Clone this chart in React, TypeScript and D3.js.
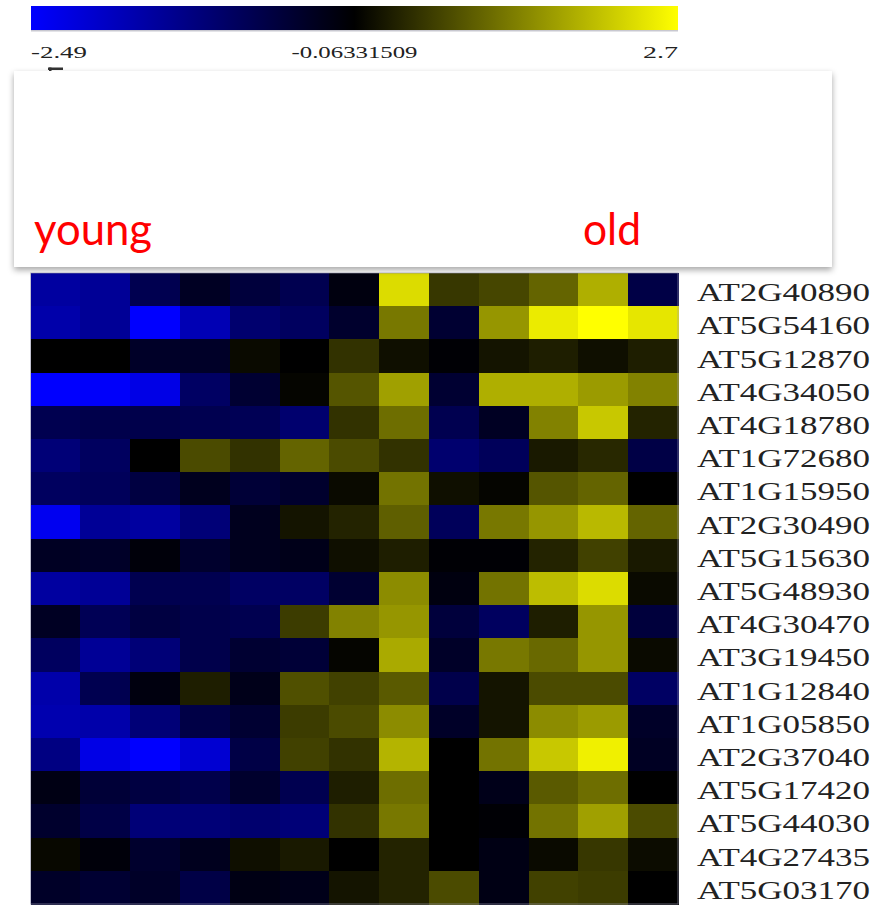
import React from "react";
import * as d3 from "d3";

const genes = [
  "AT2G40890", "AT5G54160", "AT5G12870", "AT4G34050", "AT4G18780",
  "AT1G72680", "AT1G15950", "AT2G30490", "AT5G15630", "AT5G48930",
  "AT4G30470", "AT3G19450", "AT1G12840", "AT1G05850", "AT2G37040",
  "AT5G17420", "AT5G44030", "AT4G27435", "AT5G03170",
];

const samples = ["s1", "s2", "s3", "s4", "s5", "s6", "s7", "s8", "s9", "s10", "s11", "s12", "s13"];

const values: number[][] = [
  [-1.59, -1.49, -0.82, -0.40, -0.63, -0.82, -0.21, 2.32, 0.53, 0.70, 1.02, 1.83, -0.73],
  [-1.68, -1.49, -2.49, -1.78, -1.11, -0.97, -0.49, 1.24, -0.54, 1.56, 2.48, 2.70, 2.43],
  [-0.06, -0.06, -0.44, -0.44, 0.05, -0.06, 0.48, 0.10, -0.11, 0.15, 0.26, 0.10, 0.26],
  [-2.49, -2.44, -2.25, -1.01, -0.54, -0.01, 0.86, 1.67, -0.54, 1.83, 1.83, 1.62, 1.35],
  [-0.82, -0.78, -0.78, -0.82, -0.87, -1.11, 0.48, 1.13, -0.82, -0.40, 1.35, 2.10, 0.32],
  [-1.20, -0.97, -0.06, 0.75, 0.48, 1.02, 0.75, 0.48, -1.11, -0.92, 0.21, 0.37, -0.73],
  [-0.97, -0.92, -0.68, -0.35, -0.59, -0.49, 0.05, 1.18, 0.10, -0.01, 0.86, 1.02, -0.06],
  [-2.35, -1.49, -1.59, -1.20, -0.35, 0.15, 0.32, 0.97, -0.92, 1.24, 1.56, 1.94, 1.02],
  [-0.40, -0.44, -0.16, -0.49, -0.35, -0.30, 0.10, 0.26, -0.11, -0.11, 0.32, 0.64, 0.21],
  [-1.59, -1.49, -0.82, -0.82, -1.01, -1.01, -0.54, 1.45, -0.21, 1.18, 1.99, 2.32, 0.05],
  [-0.40, -0.87, -0.68, -0.78, -0.82, 0.59, 1.35, 1.56, -0.63, -0.97, 0.26, 1.56, -0.63],
  [-0.97, -1.49, -1.20, -0.78, -0.54, -0.59, -0.01, 1.78, -0.44, 1.24, 1.07, 1.56, 0.05],
  [-1.68, -0.82, -0.21, 0.26, -0.30, 0.80, 0.64, 0.91, -0.78, 0.15, 0.75, 0.75, -1.01],
  [-1.73, -1.68, -1.20, -0.73, -0.54, 0.59, 0.75, 1.45, -0.44, 0.15, 1.45, 1.62, -0.44],
  [-1.30, -2.25, -2.49, -2.06, -0.73, 0.64, 0.48, 1.89, -0.06, 1.18, 2.10, 2.54, -0.40],
  [-0.25, -0.59, -0.68, -0.78, -0.49, -0.82, 0.26, 1.13, -0.06, -0.30, 0.91, 1.13, -0.06],
  [-0.49, -0.73, -1.20, -1.20, -1.11, -1.20, 0.48, 1.24, -0.06, -0.11, 1.18, 1.67, 0.75],
  [0.02, -0.16, -0.49, -0.35, 0.10, 0.21, -0.06, 0.32, -0.06, -0.25, 0.05, 0.53, 0.07],
  [-0.44, -0.54, -0.44, -0.73, -0.25, -0.30, 0.15, 0.32, 0.75, -0.25, 0.64, 0.59, -0.06],
];

const legendStops = [-2.49, -0.06331509, 2.7];
const legendLabels = ["-2.49", "-0.06331509", "2.7"];
const groupLabels = ["young", "old"];

const serifFont = "'Liberation Serif', 'DejaVu Serif', serif";

export default function App() {
  const W = 877;
  const H = 905;
  const hmLeft = 30.5;
  const hmRight = 678;
  const hmTop = 273;
  const hmBottom = 904;

  const x = d3.scaleBand<string>().domain(samples).range([hmLeft, hmRight]);
  const y = d3.scaleBand<string>().domain(genes).range([hmTop, hmBottom]);
  const color = d3
    .scaleLinear<string>()
    .domain(legendStops)
    .range(["#0000ff", "#000000", "#ffff00"])
    .interpolate(d3.interpolateRgb)
    .clamp(true);

  const legLeft = 31;
  const legRight = 678;
  const legX = d3
    .scaleLinear()
    .domain(legendStops)
    .range([legLeft, (legLeft + legRight) / 2, legRight]);

  const cells: React.ReactNode[] = [];
  genes.forEach((g, r) => {
    samples.forEach((s, c) => {
      cells.push(
        <rect
          key={`${r}-${c}`}
          x={x(s)}
          y={y(g)}
          width={x.bandwidth() + 0.5}
          height={y.bandwidth() + 0.5}
          fill={color(values[r][c])}
        />
      );
    });
  });

  const anchors = ["start", "middle", "end"] as const;
  const legendWidths = [56, 126, 35];

  return (
    <svg
      width={W}
      height={H}
      style={{ position: "absolute", left: 0, top: 0, background: "#fff" }}
    >
      <defs>
        <linearGradient id="legGrad" x1="0" x2="1" y1="0" y2="0">
          {legendStops.map((v, i) => (
            <stop
              key={i}
              offset={(legX(v) - legLeft) / (legRight - legLeft)}
              stopColor={color(v)}
            />
          ))}
        </linearGradient>
        <filter id="shadow" x="-5%" y="-10%" width="110%" height="125%">
          <feDropShadow dx="0" dy="3" stdDeviation="3" floodColor="#000" floodOpacity="0.35" />
        </filter>
      </defs>

      {/* color legend */}
      <rect x={legLeft} y={6} width={legRight - legLeft} height={25} fill="url(#legGrad)" />
      <rect x={legLeft} y={30} width={legRight - legLeft} height={1.5} fill="#c8c8d0" />
      {legendStops.map((v, i) => (
        <text
          key={i}
          x={legX(v)}
          y={58}
          textAnchor={anchors[i]}
          fontFamily={serifFont}
          fontSize={17}
          textLength={legendWidths[i]}
          lengthAdjust="spacingAndGlyphs"
          fill="#222"
        >
          {legendLabels[i]}
        </text>
      ))}
      <rect x={48} y={67.5} width={15} height={2.5} fill="#333" />
      <rect x={49} y={67.5} width={2.5} height={4} fill="#333" />

      {/* heatmap */}
      <g shapeRendering="crispEdges">{cells}</g>
      <rect
        x={hmLeft}
        y={hmTop}
        width={hmRight - hmLeft}
        height={hmBottom - hmTop}
        fill="none"
        stroke="#9a9ab4"
        strokeWidth={1}
        opacity={0.6}
      />
      {genes.map((g) => (
        <text
          key={g}
          x={697}
          y={(y(g) as number) + y.bandwidth() / 2 + 11.5}
          fontFamily={serifFont}
          fontSize={26}
          textLength={173}
          lengthAdjust="spacingAndGlyphs"
          fill="#222"
        >
          {g}
        </text>
      ))}

      {/* overlay box */}
      <rect x={14} y={71} width={818} height={196} fill="#fff" filter="url(#shadow)" />
      <text
        x={34}
        y={245}
        fontFamily="Lato, 'Open Sans', sans-serif"
        fontSize={45}
        textLength={118}
        lengthAdjust="spacingAndGlyphs"
        fill="#ff0000"
      >
        {groupLabels[0]}
      </text>
      <text
        x={583}
        y={245}
        fontFamily="Lato, 'Open Sans', sans-serif"
        fontSize={45}
        textLength={58}
        lengthAdjust="spacingAndGlyphs"
        fill="#ff0000"
      >
        {groupLabels[1]}
      </text>
    </svg>
  );
}
